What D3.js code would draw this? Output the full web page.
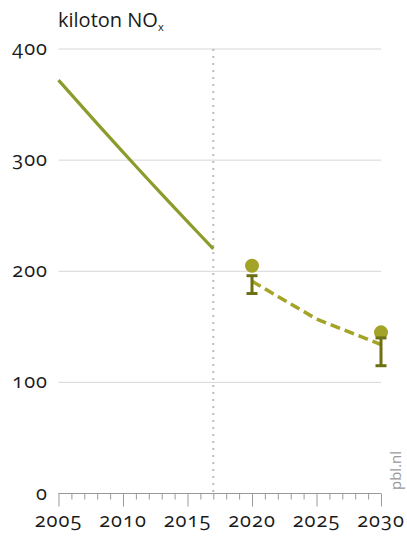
<!DOCTYPE html>
<html>
<head>
<meta charset="utf-8">
<script src="https://cdn.jsdelivr.net/npm/d3@7"></script>
<style>
  html, body { margin: 0; padding: 0; background: #fff; }
  svg text { font-family: "Open Sans", "Noto Sans", sans-serif; font-variant-numeric: oldstyle-nums; font-feature-settings: "onum" 1; }
</style>
</head>
<body>
<svg id="chart" width="407" height="548"></svg>
<script>
// Historical emissions (kiloton NOx)
const histYears = [2005, 2006, 2007, 2008, 2009, 2010, 2011, 2012, 2013, 2014, 2015, 2016, 2017];
const histValues = [372, 358.9, 345.9, 332.9, 320, 307.2, 294.5, 281.9, 269.4, 257, 244.7, 232.4, 220.2];

// Projection (dashed)
const projYears = [2020, 2025, 2030];
const projValues = [191, 157, 134];

// Targets with uncertainty range
const targetYears = [2020, 2030];
const targetValues = [205, 145];
const rangeLow = [180, 115];
const rangeHigh = [196, 140];

const yTicks = [0, 100, 200, 300, 400];
const xTickLabels = [2005, 2010, 2015, 2020, 2025, 2030];
const dividerYear = 2017;

const svg = d3.select("#chart");
const x = d3.scaleLinear().domain([2005, 2030]).range([58.5, 381]);
const y = d3.scaleLinear().domain([0, 400]).range([493.5, 49]);

const lineCol = "#8c9b2a";
const dotCol = "#a2a327";
const barCol = "#6e7012";
const textCol = "#1a1a1a";

// Gridlines
svg.append("g").selectAll("line").data(yTicks.filter(d => d > 0)).join("line")
  .attr("x1", x(2005)).attr("x2", x(2030))
  .attr("y1", d => y(d)).attr("y2", d => y(d))
  .attr("stroke", "#d6d6d6").attr("stroke-width", 1);

// Y labels
svg.append("g").selectAll("text").data(yTicks).join("text")
  .attr("x", 48).attr("y", d => y(d) + 6)
  .attr("text-anchor", "end")
  .attr("font-size", 20).attr("letter-spacing", 1).attr("fill", textCol)
  .text(d => d);

// Title
const title = svg.append("text").attr("x", 58).attr("y", 27)
  .attr("font-size", 20).attr("fill", textCol);
title.append("tspan").text("kiloton NO");
title.append("tspan").attr("font-size", 11).attr("dy", 4).text("x");

// X axis
const xAxis = d3.axisBottom(x)
  .tickValues(d3.range(2005, 2031))
  .tickSize(6)
  .tickFormat("");
const gx = svg.append("g").attr("transform", `translate(0,${y(0)})`).call(xAxis);
gx.select(".domain").attr("stroke", "#9a9a9a").attr("d", `M${x(2005)},0H${x(2030)}`);
gx.selectAll(".tick line").attr("stroke", "#9a9a9a")
  .attr("y2", d => d % 5 === 0 ? 13 : 6);

svg.append("g").selectAll("text").data(xTickLabels).join("text")
  .attr("x", d => x(d)).attr("y", 527)
  .attr("text-anchor", "middle")
  .attr("font-size", 20).attr("letter-spacing", 1).attr("fill", textCol)
  .text(d => d);

// Divider between history and projection
svg.append("line")
  .attr("x1", x(dividerYear)).attr("x2", x(dividerYear))
  .attr("y1", y(400)).attr("y2", y(0))
  .attr("stroke", "#bdbdbd").attr("stroke-width", 2)
  .attr("stroke-dasharray", "2,5");

// Historical line
const line = d3.line().x(d => x(d[0])).y(d => y(d[1]));
svg.append("path")
  .datum(histYears.map((d, i) => [d, histValues[i]]))
  .attr("d", line).attr("fill", "none")
  .attr("stroke", lineCol).attr("stroke-width", 3.2)
  .attr("stroke-linejoin", "round");

// Projection dashed line
svg.append("path")
  .datum(projYears.map((d, i) => [d, projValues[i]]))
  .attr("d", line).attr("fill", "none")
  .attr("stroke", dotCol).attr("stroke-width", 3.5)
  .attr("stroke-dasharray", "10,5");

// Targets: dot + range bar
const tg = svg.append("g").selectAll("g").data(targetYears).join("g");
tg.append("circle")
  .attr("cx", d => x(d)).attr("cy", (d, i) => y(targetValues[i]))
  .attr("r", 7).attr("fill", dotCol);
tg.append("line")
  .attr("x1", d => x(d)).attr("x2", d => x(d))
  .attr("y1", (d, i) => y(rangeHigh[i])).attr("y2", (d, i) => y(rangeLow[i]))
  .attr("stroke", barCol).attr("stroke-width", 3);
tg.append("line")
  .attr("x1", d => x(d) - 5.5).attr("x2", d => x(d) + 5.5)
  .attr("y1", (d, i) => y(rangeHigh[i])).attr("y2", (d, i) => y(rangeHigh[i]))
  .attr("stroke", barCol).attr("stroke-width", 3);
tg.append("line")
  .attr("x1", d => x(d) - 5.5).attr("x2", d => x(d) + 5.5)
  .attr("y1", (d, i) => y(rangeLow[i])).attr("y2", (d, i) => y(rangeLow[i]))
  .attr("stroke", barCol).attr("stroke-width", 3);

// Source
svg.append("text")
  .attr("transform", "translate(401,490) rotate(-90)")
  .attr("font-size", 15).attr("fill", "#9a9a9a")
  .text("pbl.nl");
</script>
</body>
</html>
